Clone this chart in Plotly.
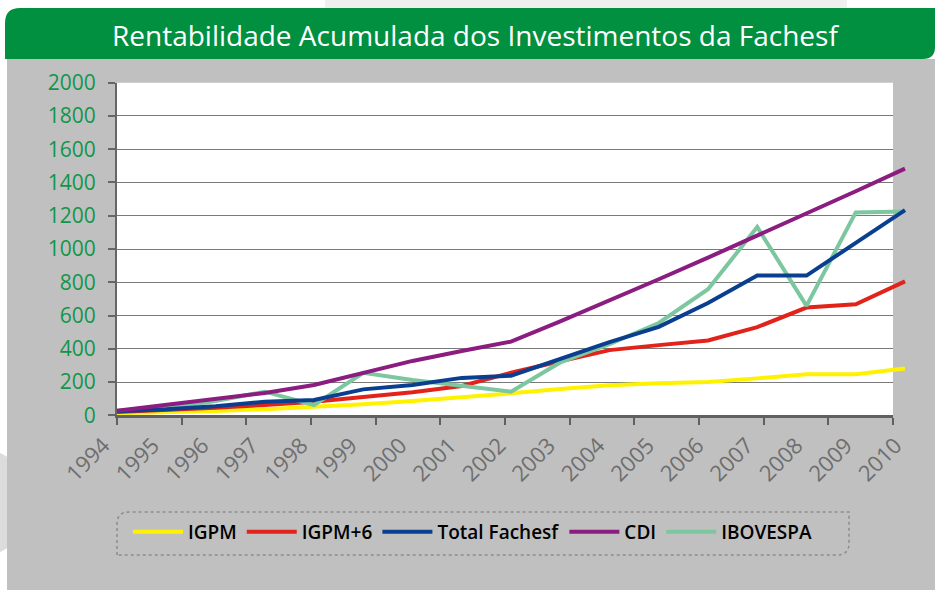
import plotly.graph_objects as go

W, H = 935, 590

years = list(range(1994, 2011))
year_labels = [str(y) for y in years]
igpm = [12, 16, 26, 36, 50, 66, 86, 106, 132, 158, 180, 192, 200, 222, 247, 247, 282]
igpm6 = [20, 32, 46, 62, 82, 110, 138, 176, 256, 325, 392, 422, 450, 530, 648, 668, 805]
total = [25, 36, 54, 82, 92, 156, 182, 225, 238, 342, 440, 532, 675, 840, 840, 1037, 1234]
cdi = [28, 63, 100, 134, 182, 256, 327, 387, 443, 565, 690, 818, 948, 1080, 1213, 1347, 1483]
ibov = [28, 42, 86, 142, 62, 256, 212, 180, 142, 318, 428, 555, 758, 1132, 658, 1220, 1226]

series = [
    ("IGPM", igpm, "#FFF200", 1),
    ("IGPM+6", igpm6, "#E2231A", 2),
    ("IBOVESPA", ibov, "#7CC7A0", 5),
    ("Total Fachesf", total, "#0A3F8F", 3),
    ("CDI", cdi, "#8C1D80", 4),
]

y_ticks = list(range(0, 2001, 200))
n_axis_ticks = 13


def px(x):
    return x / W


def py(y):
    return 1 - y / H


plot_left, plot_right_axis, plot_right_lines = 117, 893, 910
lines_left = 92
plot_top, plot_bottom = 82.7, 415.3
year_px = 49.25
# year labels: first tick pixel and pixel step (labels are spaced slightly differently from the data)
label_first_px, label_step_px = 103.5, 49.5

fig = go.Figure()
# empty trace so the framed axis subplot is created
fig.add_trace(go.Scatter(x=[], y=[], xaxis="x", yaxis="y", showlegend=False, hoverinfo="skip"))
for name, vals, color, rank in series:
    fig.add_trace(go.Scatter(
        x=years, y=vals, name=name, mode="lines",
        line=dict(color=color, width=4),
        xaxis="x2", yaxis="y2", legendrank=rank,
    ))

x2_min = years[0] - (plot_left - lines_left) / year_px
x2_max = years[0] + (plot_right_lines - plot_left) / year_px
label_vals = [years[0] + (label_first_px + i * label_step_px - plot_left) / year_px for i in range(len(years))]

ydom = [py(plot_bottom), py(plot_top)]

shapes = []
shapes.append(dict(type="rect", xref="paper", yref="paper", x0=px(325), x1=px(847), y0=py(8), y1=1,
                   fillcolor="#EFEFEF", line_width=0, layer="below"))
shapes.append(dict(type="circle", xref="paper", yref="paper", x0=px(-60), x1=px(30), y0=py(555), y1=py(450),
                   fillcolor="#DCDCDC", line_width=0, layer="below"))
shapes.append(dict(type="rect", xref="paper", yref="paper", x0=px(7), x1=1, y0=0, y1=py(59),
                   fillcolor="#C0C0C0", line_width=0, layer="below"))
r = 15
bar = (f"M {px(5)},{py(59)} L {px(5)},{py(8 + r)} Q {px(5)},{py(8)} {px(5 + r)},{py(8)} "
       f"L {px(935)},{py(8)} L {px(935)},{py(59 - 12)} Q {px(935)},{py(59)} {px(935 - 12)},{py(59)} Z")
shapes.append(dict(type="path", xref="paper", yref="paper", path=bar,
                   fillcolor="#009040", line_width=0, layer="below"))
shapes.append(dict(type="rect", xref="paper", yref="paper",
                   x0=px(plot_left), x1=px(plot_right_axis), y0=ydom[0], y1=ydom[1],
                   fillcolor="white", line_width=0, layer="below"))
lx0, lx1, ly0, ly1, lr = 117, 849, 512, 555, 12
frame = (f"M {px(lx0)},{py(ly1)} L {px(lx0)},{py(ly0 + lr)} Q {px(lx0)},{py(ly0)} {px(lx0 + lr)},{py(ly0)} "
         f"L {px(lx1)},{py(ly0)} L {px(lx1)},{py(ly1 - lr)} Q {px(lx1)},{py(ly1)} {px(lx1 - lr)},{py(ly1)} Z")
shapes.append(dict(type="path", xref="paper", yref="paper", path=frame,
                   line=dict(color="#8C8C8C", width=1.5, dash="dot"), layer="below"))

fig.update_layout(
    width=W, height=H, autosize=False,
    margin=dict(l=0, r=0, t=0, b=0, autoexpand=False),
    paper_bgcolor="white",
    plot_bgcolor="rgba(0,0,0,0)",
    font=dict(family="Open Sans"),
    xaxis=dict(domain=[px(plot_left), px(plot_right_axis)], anchor="y",
               range=[0, n_axis_ticks - 1], tickvals=list(range(n_axis_ticks)),
               showticklabels=False, ticks="outside", ticklen=7, tickwidth=2, tickcolor="#606060",
               showline=True, linecolor="#606060", linewidth=2.5, showgrid=False, zeroline=False,
               automargin=False),
    yaxis=dict(domain=ydom, anchor="x", range=[0, 2000], tickvals=y_ticks,
               ticks="outside", ticklen=7, tickwidth=2, tickcolor="#666666",
               showline=True, linecolor="#666666", linewidth=2,
               showgrid=True, gridcolor="#7A7A7A", gridwidth=1.3, zeroline=False,
               tickfont=dict(family="Open Sans", size=21, color="#10964A"),
               ticklabelstandoff=8, automargin=False),
    xaxis2=dict(domain=[px(lines_left), px(plot_right_lines)], anchor="y2",
                range=[x2_min, x2_max], tickvals=label_vals, ticktext=year_labels,
                tickangle=-45, ticks="", showline=False, showgrid=False, zeroline=False,
                ticklabelstandoff=12,
                tickfont=dict(family="Open Sans", size=22, color="#6E6E6E"), automargin=False),
    yaxis2=dict(domain=ydom, anchor="x2", range=[0, 2000], visible=False, automargin=False),
    shapes=shapes,
    showlegend=True,
    legend=dict(orientation="h", x=px(128), xanchor="left", y=py(532), yanchor="middle",
                bgcolor="rgba(0,0,0,0)", itemwidth=50, traceorder="normal",
                font=dict(family="Open Sans", size=19, color="black", weight=600)),
    annotations=[dict(text="Rentabilidade Acumulada dos Investimentos da Fachesf",
                      xref="paper", yref="paper", x=px(476), y=py(35), showarrow=False,
                      xanchor="center", yanchor="middle",
                      font=dict(family="Open Sans", size=28, color="white"))],
)

fig.write_html("out.html", config={"displayModeBar": False},
               post_script="document.body.style.margin='0';")
